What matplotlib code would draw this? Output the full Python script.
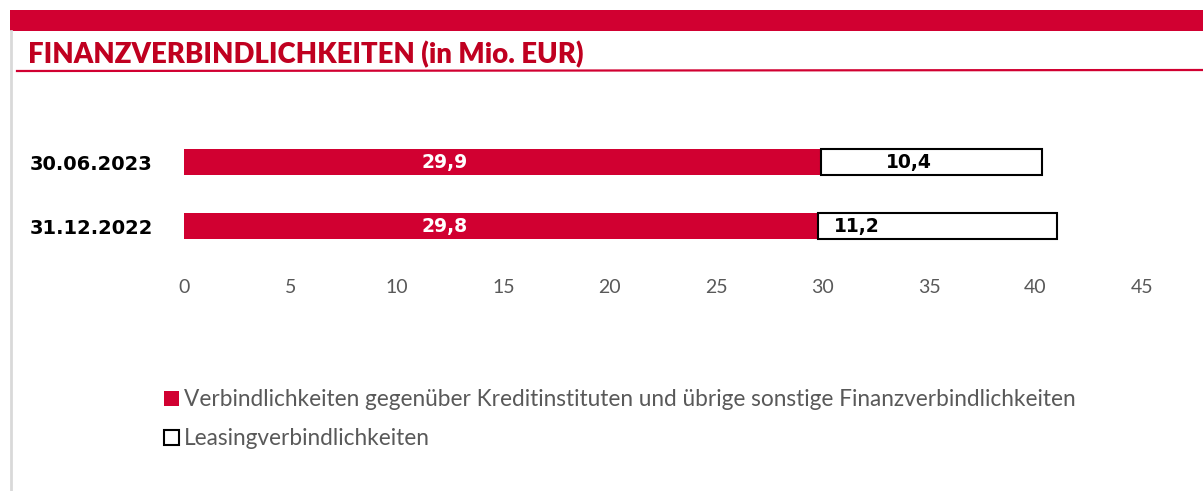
import matplotlib.pyplot as plt
from matplotlib.patches import Rectangle
from matplotlib.lines import Line2D

dates = ['30.06.2023', '31.12.2022']
kredit = [29.9, 29.8]
leasing = [10.4, 11.2]
kredit_lbl = ['29,9', '29,8']
leasing_lbl = ['10,4', '11,2']
# where the value label sits inside each segment (fraction of the segment)
kredit_pos = [0.41, 0.41]
leasing_pos = [0.40, 0.16]
series = ['Verbindlichkeiten gegenüber Kreditinstituten und übrige sonstige Finanzverbindlichkeiten',
          'Leasingverbindlichkeiten']

red = '#D10031'
grey = '#595959'

W, H = 1203, 491
fig = plt.figure(figsize=(W / 100, H / 100), dpi=100)

# frame decoration
fig.patches.append(Rectangle((10 / W, 1 - 31 / H), 1, 21 / H, transform=fig.transFigure,
                             color=red, lw=0))
fig.add_artist(Line2D([11 / W, 11 / W], [0, 1 - 31 / H], transform=fig.transFigure,
                      color='#d9d9d9', lw=2))
fig.add_artist(Line2D([17 / W, 1], [1 - 71 / H, 1 - 70 / H], transform=fig.transFigure,
                      color=red, lw=1.6))
fig.text(28 / W, 1 - 55 / H, 'FINANZVERBINDLICHKEITEN (in Mio. EUR)', color='#C00020',
         fontsize=19.8, fontweight='heavy', family='Lato', va='center', ha='left')

ax = fig.add_axes([184 / W, 1 - 260 / H, 958 / W, 130 / H])
y = list(range(len(dates)))
b1 = ax.barh(y, kredit, height=0.406, color=red, label=series[0])
b2 = ax.barh(y, leasing, left=kredit, height=0.406, color='white', edgecolor='black',
             lw=1.5, label=series[1])

for i in y:
    ax.text(kredit[i] * kredit_pos[i], i, kredit_lbl[i], color='white', fontsize=13.5,
            fontweight='bold', ha='center', va='center')
    ax.text(kredit[i] + leasing[i] * leasing_pos[i], i, leasing_lbl[i], color='black',
            fontsize=13.5, fontweight='bold', ha='center', va='center')

ax.set_xlim(0, 45)
ax.set_ylim(1.53, -0.5)
ax.set_xticks(range(0, 46, 5))
ax.tick_params(axis='x', length=0, pad=14, labelsize=14, labelcolor=grey)
for t in ax.get_xticklabels():
    t.set_family('Lato')
ax.set_yticks(y, dates)
ax.tick_params(axis='y', length=0, pad=111, labelsize=14)
for t in ax.get_yticklabels():
    t.set_ha('left')
    t.set_fontweight('bold')
for s in ax.spines.values():
    s.set_visible(False)

leg = fig.legend(handles=[b1, b2], loc='upper left', bbox_to_anchor=(144 / W, 1 - 369 / H),
                 frameon=False, handlelength=0.65, handleheight=0.65,
                 handletextpad=0.2, labelspacing=0.8,
                 prop={'family': 'Lato', 'size': 16.3})
for t in leg.get_texts():
    t.set_color(grey)

plt.savefig('out.png', dpi=100)
